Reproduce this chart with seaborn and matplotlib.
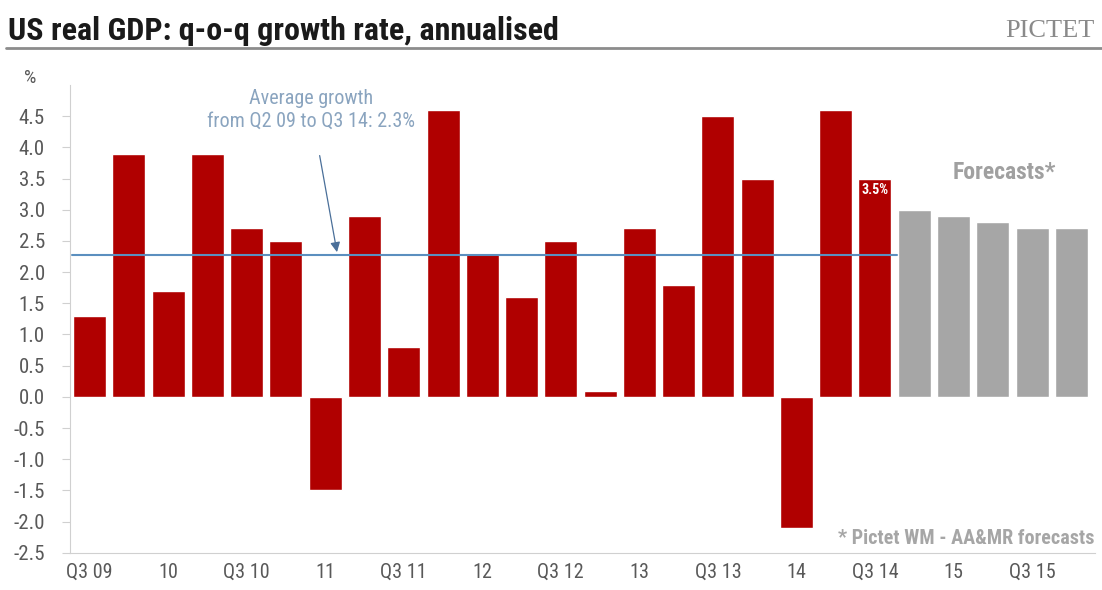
import numpy as np
import pandas as pd
import seaborn as sns
from matplotlib import pyplot as plt
from matplotlib.lines import Line2D

sns.set_style('white')
plt.rcParams['font.family'] = ['Roboto Condensed', 'DejaVu Sans']

# quarters from Q3 09 to Q4 15
quarters = ['Q3 09', 'Q4 09', 'Q1 10', 'Q2 10', 'Q3 10', 'Q4 10', 'Q1 11', 'Q2 11',
            'Q3 11', 'Q4 11', 'Q1 12', 'Q2 12', 'Q3 12', 'Q4 12', 'Q1 13', 'Q2 13',
            'Q3 13', 'Q4 13', 'Q1 14', 'Q2 14', 'Q3 14',
            'Q4 14', 'Q1 15', 'Q2 15', 'Q3 15', 'Q4 15']
actual = [1.3, 3.9, 1.7, 3.9, 2.7, 2.5, -1.5, 2.9, 0.8, 4.6, 2.3, 1.6, 2.5, 0.1,
          2.7, 1.8, 4.5, 3.5, -2.1, 4.6, 3.5]
forecast = [3.0, 2.9, 2.8, 2.7, 2.7]
avg_growth = 2.27
tick_labels = ['Q3 09', '', '10', '', 'Q3 10', '', '11', '', 'Q3 11', '', '12', '',
               'Q3 12', '', '13', '', 'Q3 13', '', '14', '', 'Q3 14', '', '15', '',
               'Q3 15', '']

df = pd.DataFrame({'quarter': quarters,
                   'value': actual + forecast,
                   'kind': ['actual'] * len(actual) + ['forecast'] * len(forecast)})

red = '#b00000'
grey = '#a6a6a6'
txt = '#595959'

fig = plt.figure(figsize=(11.02, 5.90), dpi=100)
ax = fig.add_axes([0.0635, 0.063, 0.93, 0.793])

sns.barplot(data=df, x='quarter', y='value', hue='kind', dodge=False, width=0.84,
            saturation=1, palette={'actual': red, 'forecast': grey}, legend=False, ax=ax)

ax.set_xlim(-0.5, 25.6)
ax.set_ylim(-2.5, 5.0)
ax.set_yticks(np.arange(-2.5, 4.6, 0.5))
ax.set_yticklabels([f'{v:.1f}' for v in np.arange(-2.5, 4.6, 0.5)], color=txt, fontsize=15)
ax.set_xticks(range(len(quarters)))
ax.set_xticklabels(tick_labels, color=txt, fontsize=14.5)
ax.tick_params(axis='x', length=0, pad=7)
ax.tick_params(axis='y', length=6, width=0.8, color='#d0d0d0', left=True, direction='out', pad=12)
ax.set_xlabel('')
ax.set_ylabel('')
for s in ['top', 'right']:
    ax.spines[s].set_visible(False)
ax.spines['left'].set_color('#d0d0d0')
ax.spines['bottom'].set_color('#d0d0d0')

# average line
ax.plot([-0.45, len(actual) - 0.5 + 0.05], [avg_growth, avg_growth], color='#5b8fbf', lw=1.5)
ax.annotate('Average growth\nfrom Q2 09 to Q3 14: 2.3%', xy=(6.3, avg_growth + 0.05),
            xytext=(5.65, 4.6), ha='center', va='center', color='#8aa4bf', fontsize=14.5,
            linespacing=1.2,
            arrowprops=dict(arrowstyle='-|>', color='#4a6f99', lw=0.9, shrinkA=16, shrinkB=0))

ax.text(len(actual) - 1, actual[-1] - 0.07, f'{actual[-1]:.1f}%', ha='center', va='top',
        color='white', fontsize=10, fontweight='bold')
ax.text(23.3, 3.6, 'Forecasts*', ha='center', va='center', color='#a0a0a0', fontsize=17,
        fontweight='bold')
ax.text(25.6, -2.27, '* Pictet WM - AA&MR forecasts', ha='right', va='center',
        color='#a6a6a6', fontsize=14.5, fontweight='bold')

fig.text(0.027, 0.868, '%', color=txt, fontsize=14, ha='center', va='center')
fig.text(0.007, 0.948, 'US real GDP: q-o-q growth rate, annualised', fontsize=23,
         fontweight='bold', color='#1a1a1a', ha='left', va='center')
fig.text(0.993, 0.948, 'PICTET', fontsize=19, family='Liberation Serif', color='#8a8a8a',
         ha='right', va='center')
fig.add_artist(Line2D([0.005, 1.0], [0.918, 0.918], color='#8c8c8c', lw=2,
                      transform=fig.transFigure))

plt.savefig('out.png', dpi=100)
